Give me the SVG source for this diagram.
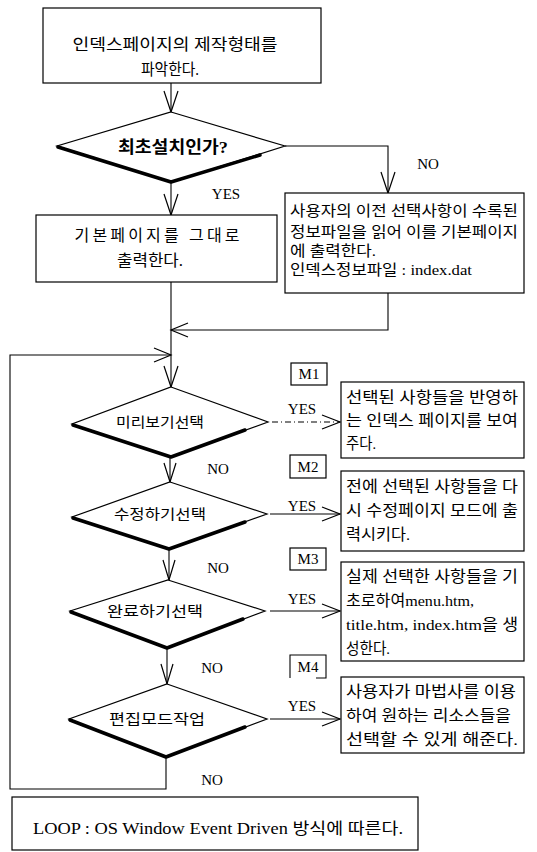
<svg xmlns="http://www.w3.org/2000/svg" width="537" height="852" viewBox="0 0 537 852">
<style>
.bx{fill:#fff;stroke:#000;stroke-width:1.2}
.dm{fill:#fff;stroke:#000;stroke-width:1.2;stroke-linejoin:miter}
.sh{fill:none;stroke:#000;stroke-width:3.5;stroke-linecap:round;stroke-linejoin:round}
.ln{fill:none;stroke:#000;stroke-width:1.1}
.ah{fill:none;stroke:#000;stroke-width:1.2}
.dd{fill:none;stroke:#000;stroke-width:1.1;stroke-dasharray:6 3 1 3}
.k{font-family:"Liberation Serif","Noto Sans CJK KR",serif;font-size:15.5px;fill:#000}
.kd{font-family:"Liberation Serif","Noto Sans CJK KR",serif;font-size:14px;fill:#000;text-anchor:middle}
.c{text-anchor:middle}
.l{font-family:"Liberation Serif",serif;font-size:15px;fill:#000}
</style>

<g id="connectors">
  <path class="ln" d="M171,83 V112"/>
  <path class="ah" d="M164,91 L171,112 L178,91"/>
  <path class="ln" d="M285,146 H388 V193"/>
  <path class="ah" d="M381,172 L388,193 L395,172"/>
  <path class="ln" d="M171,182 V215"/>
  <path class="ah" d="M164,194 L171,215 L178,194"/>
  <path class="ln" d="M171,282 V387"/>
  <path class="ah" d="M164,366 L171,387 L178,366"/>
  <path class="ln" d="M388,293 V330 H171"/>
  <path class="ah" d="M188,323 L171,330 L188,337"/>
  <path class="ln" d="M166,757 V789 H10 V355 H171"/>
  <path class="ah" d="M154,348 L171,355 L154,362"/>
  <path class="ln" d="M170,457 V482"/>
  <path class="ah" d="M164,463 L170,482 L176,463"/>
  <path class="ln" d="M169,549 V580"/>
  <path class="ah" d="M163,560 L169,580 L175,560"/>
  <path class="ln" d="M167,648 V684"/>
  <path class="ah" d="M161,664 L167,684 L173,664"/>
  <path class="dd" d="M272,422 H340"/>
  <path class="ah" d="M322,415 L340,422 L322,429"/>
  <path class="ln" d="M270,514 H340"/>
  <path class="ah" d="M322,507 L340,514 L322,521"/>
  <path class="ln" d="M270,611 H340"/>
  <path class="ah" d="M322,604 L340,611 L322,618"/>
  <path class="ln" d="M270,719 H340"/>
  <path class="ah" d="M322,712 L340,719 L322,726"/>
  <text class="l" x="428" y="169" text-anchor="middle">NO</text>
  <text class="l" x="226" y="199" text-anchor="middle">YES</text>
  <text class="l" x="302" y="414" text-anchor="middle">YES</text>
  <text class="l" x="302" y="511" text-anchor="middle">YES</text>
  <text class="l" x="302" y="604" text-anchor="middle">YES</text>
  <text class="l" x="302" y="711" text-anchor="middle">YES</text>
  <text class="l" x="218" y="474" text-anchor="middle">NO</text>
  <text class="l" x="218" y="573" text-anchor="middle">NO</text>
  <text class="l" x="212" y="673" text-anchor="middle">NO</text>
  <text class="l" x="212" y="785" text-anchor="middle">NO</text>
</g>

<g id="start">
  <rect class="bx" x="43" y="8" width="278" height="75"/>
  <text class="k c" x="175" y="50" style="font-size:16px" textLength="205" lengthAdjust="spacingAndGlyphs">인덱스페이지의 제작형태를</text>
  <text class="k c" x="170" y="75" style="font-size:16px" textLength="58" lengthAdjust="spacingAndGlyphs">파악한다.</text>
</g>

<g id="d1">
  <polygon class="dm" points="171,112 285,146 171,182 57,146"/>
  <polyline class="sh" points="58,147 171,182 260,155"/>
  <text class="k c" x="173" y="153" style="font-size:17px;font-weight:bold" textLength="110" lengthAdjust="spacingAndGlyphs">최초설치인가?</text>
</g>

<g id="box2">
  <rect class="bx" x="36" y="215" width="241" height="67"/>
  <text class="k c" x="157" y="241" style="font-size:16px" textLength="165">기본페이지를 그대로</text>
  <text class="k c" x="150" y="266" style="font-size:16px" textLength="66" lengthAdjust="spacingAndGlyphs">출력한다.</text>
</g>

<g id="box3">
  <rect class="bx" x="285" y="193" width="239" height="100"/>
  <text class="k" x="290" y="216" style="font-size:15px" textLength="228" lengthAdjust="spacingAndGlyphs">사용자의 이전 선택사항이 수록된</text>
  <text class="k" x="290" y="237" style="font-size:15px" textLength="228" lengthAdjust="spacingAndGlyphs">정보파일을 읽어 이를 기본페이지</text>
  <text class="k" x="290" y="256" style="font-size:15px" textLength="86" lengthAdjust="spacingAndGlyphs">에 출력한다.</text>
  <text class="k" x="290" y="275" style="font-size:15px" textLength="182" lengthAdjust="spacingAndGlyphs">인덱스정보파일 : index.dat</text>
</g>

<g id="d2">
  <polygon class="dm" points="171,387 268,422 171,457 72,424"/>
  <polyline class="sh" points="73,425 171,457 245,430"/>
  <text class="kd" x="160" y="427" textLength="88" lengthAdjust="spacingAndGlyphs">미리보기선택</text>
</g>

<g id="d3">
  <polygon class="dm" points="170,482 267,514 169,549 72,517"/>
  <polyline class="sh" points="73,518 169,549 245,522"/>
  <text class="kd" x="160" y="519" textLength="92" lengthAdjust="spacingAndGlyphs">수정하기선택</text>
</g>

<g id="d4">
  <polygon class="dm" points="168,580 265,611 167,648 70,611"/>
  <polyline class="sh" points="71,612 167,648 243,619"/>
  <text class="kd" x="155" y="616" textLength="96" lengthAdjust="spacingAndGlyphs">완료하기선택</text>
</g>

<g id="d5">
  <polygon class="dm" points="167,684 267,719 166,757 69,719"/>
  <polyline class="sh" points="70,720 166,757 245,727"/>
  <text class="kd" x="157" y="724" textLength="96" lengthAdjust="spacingAndGlyphs">편집모드작업</text>
</g>

<g id="m1">
  <rect class="bx" x="291" y="363" width="36" height="22"/>
  <text class="l c" x="309" y="379">M1</text>
  <rect class="bx" x="341" y="382" width="183" height="76"/>
  <text class="k" x="346" y="403" textLength="172" lengthAdjust="spacingAndGlyphs">선택된 사항들을 반영하</text>
  <text class="k" x="346" y="426" textLength="172" lengthAdjust="spacingAndGlyphs">는 인덱스 페이지를 보여</text>
  <text class="k" x="346" y="449" textLength="30" lengthAdjust="spacingAndGlyphs">주다.</text>
</g>

<g id="m2">
  <rect class="bx" x="290" y="455" width="36" height="23"/>
  <text class="l c" x="308" y="472">M2</text>
  <rect class="bx" x="341" y="471" width="183" height="80"/>
  <text class="k" x="346" y="492" textLength="172" lengthAdjust="spacingAndGlyphs">전에 선택된 사항들을 다</text>
  <text class="k" x="346" y="516" textLength="172" lengthAdjust="spacingAndGlyphs">시 수정페이지 모드에 출</text>
  <text class="k" x="346" y="540" textLength="64" lengthAdjust="spacingAndGlyphs">력시키다.</text>
</g>

<g id="m3">
  <rect class="bx" x="290" y="548" width="36" height="22"/>
  <text class="l c" x="308" y="564">M3</text>
  <rect class="bx" x="341" y="562" width="183" height="99"/>
  <text class="k" x="346" y="582" textLength="172" lengthAdjust="spacingAndGlyphs">실제 선택한 사항들을 기</text>
  <text class="k" x="346" y="606" textLength="128" lengthAdjust="spacingAndGlyphs">초로하여menu.htm,</text>
  <text class="k" x="346" y="630" textLength="172" lengthAdjust="spacingAndGlyphs">title.htm, index.htm을 생</text>
  <text class="k" x="346" y="654" textLength="44" lengthAdjust="spacingAndGlyphs">성한다.</text>
</g>

<g id="m4">
  <path class="ln" d="M290,678 V655 H326 V678 H316"/>
  <text class="l c" x="308" y="672">M4</text>
  <rect class="bx" x="341" y="677" width="183" height="76"/>
  <text class="k" x="346" y="697" textLength="170" lengthAdjust="spacingAndGlyphs">사용자가 마법사를 이용</text>
  <text class="k" x="346" y="721" textLength="165" lengthAdjust="spacingAndGlyphs">하여 원하는 리소스들을</text>
  <text class="k" x="346" y="745" textLength="172" lengthAdjust="spacingAndGlyphs">선택할 수 있게 해준다.</text>
</g>

<g id="loop-note">
  <rect class="bx" x="12" y="797" width="406" height="53"/>
  <text class="k c" x="218" y="834" style="font-size:16px" textLength="370" lengthAdjust="spacingAndGlyphs">LOOP : OS Window Event Driven 방식에 따른다.</text>
</g>
</svg>
